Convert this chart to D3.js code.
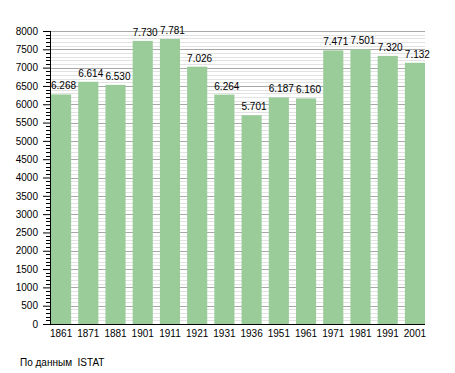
<!DOCTYPE html>
<html>
<head>
<meta charset="utf-8">
<script src="https://cdn.jsdelivr.net/npm/d3@7"></script>
<style>
	body { margin: 0; background: #fff; }
	text { font-family: "Liberation Sans", Arial, sans-serif; font-size: 10px; fill: #000; }
</style>
</head>
<body>
<div id="chart"></div>
<script>
	// Census years and population (ISTAT)
	var years = ['1861', '1871', '1881', '1901', '1911', '1921', '1931', '1936', '1951', '1961', '1971', '1981', '1991', '2001'];
	var population = [6268, 6614, 6530, 7730, 7781, 7026, 6264, 5701, 6187, 6160, 7471, 7501, 7320, 7132];
	var yTicks = [0, 500, 1000, 1500, 2000, 2500, 3000, 3500, 4000, 4500, 5000, 5500, 6000, 6500, 7000, 7500, 8000];

	// plot box (window.top is reserved, so no plain "top")
	var width = 455, height = 373,
		plotLeft = 50, plotRight = 425,
		plotTop = 31, plotBottom = 324;

	var fmt = d3.formatLocale({decimal: ',', thousands: '.', grouping: [3], currency: ['', '']}).format(',');

	var svg = d3.select('#chart').append('svg')
		.attr('width', width)
		.attr('height', height);

	var x = d3.scaleBand()
		.domain(years)
		.range([plotLeft + 1, plotRight])
		.paddingInner(0.26)
		.paddingOuter(0);

	var y = d3.scaleLinear()
		.domain([0, 8000])
		.range([plotBottom, plotTop]);

	function yPx(d) {
		return Math.round(y(d)) + 0.5;
	}

	// minor grid every 100, major every 500
	var minor = d3.range(100, 8001, 100).filter(function (v) { return v % 500 !== 0; });

	svg.append('g').selectAll('line')
		.data(minor)
		.enter().append('line')
		.attr('x1', plotLeft).attr('x2', plotRight)
		.attr('y1', yPx).attr('y2', yPx)
		.attr('stroke', '#e2e2e2');

	svg.append('g').selectAll('line')
		.data(yTicks.slice(1))
		.enter().append('line')
		.attr('x1', plotLeft).attr('x2', plotRight)
		.attr('y1', yPx).attr('y2', yPx)
		.attr('stroke', '#a8a8a8');

	// bars
	svg.append('g').selectAll('rect')
		.data(population)
		.enter().append('rect')
		.attr('x', function (d, i) { return x(years[i]); })
		.attr('y', function (d) { return y(d); })
		.attr('width', x.bandwidth())
		.attr('height', function (d) { return y(0) - y(d); })
		.attr('fill', '#99cc99');

	// value labels
	svg.append('g').selectAll('text')
		.data(population)
		.enter().append('text')
		.attr('x', function (d, i) { return x(years[i]); })
		.attr('y', function (d) { return y(d) - 5; })
		.text(function (d) { return fmt(d); });

	// y axis with minor ticks
	var yAxis = svg.append('g')
		.attr('transform', 'translate(' + plotLeft + ',0)');

	yAxis.selectAll('line.minor')
		.data(minor)
		.enter().append('line')
		.attr('class', 'minor')
		.attr('x1', -4).attr('x2', 0)
		.attr('y1', yPx).attr('y2', yPx)
		.attr('stroke', '#000');

	yAxis.call(d3.axisLeft(y).tickValues(yTicks).tickSize(7).tickPadding(5).tickFormat(d3.format('d')))
		.call(function (g) { g.select('.domain').attr('d', 'M0.5,' + plotTop + 'V' + (plotBottom + 0.5)); })
		.selectAll('text')
		.style('font-family', '"Liberation Sans", Arial, sans-serif')
		.style('font-size', '10px');

	// x axis
	svg.append('g')
		.attr('transform', 'translate(0,' + plotBottom + ')')
		.call(d3.axisBottom(x).tickSize(0).tickPadding(6))
		.call(function (g) { g.select('.domain').attr('d', 'M' + plotLeft + ',0.5H' + plotRight); })
		.selectAll('text')
		.style('font-family', '"Liberation Sans", Arial, sans-serif')
		.style('font-size', '10px');

	svg.append('text')
		.attr('x', 20)
		.attr('y', 366)
		.attr('xml:space', 'preserve')
		.style('white-space', 'pre')
		.text('По данным  ISTAT');
</script>
</body>
</html>
